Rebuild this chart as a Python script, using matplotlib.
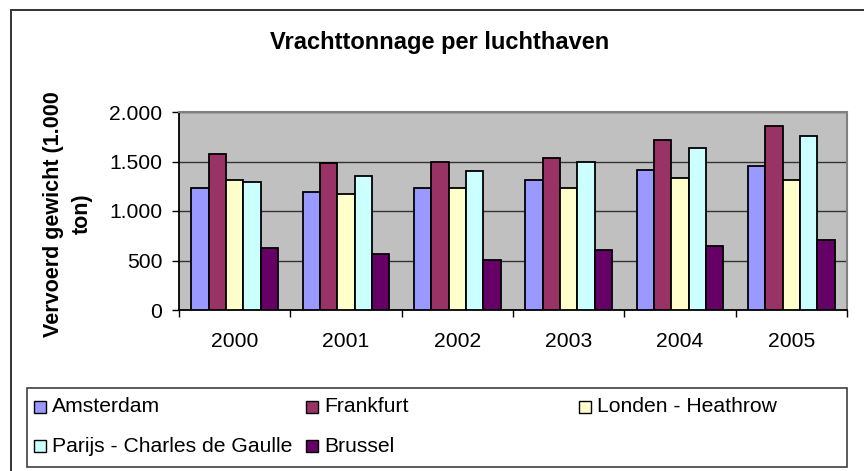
import matplotlib
matplotlib.use("Agg")
import matplotlib.pyplot as plt
from matplotlib.patches import Rectangle
import numpy as np

plt.rcParams['font.family'] = ['Liberation Sans', 'DejaVu Sans']

years = ["2000", "2001", "2002", "2003", "2004", "2005"]
amsterdam = [1235, 1195, 1235, 1316, 1418, 1458]
frankfurt = [1579, 1481, 1498, 1539, 1721, 1862]
londen = [1316, 1175, 1235, 1235, 1337, 1316]
parijs = [1296, 1357, 1401, 1498, 1640, 1761]
brussel = [629, 569, 505, 609, 650, 710]
series_names = ["Amsterdam", "Frankfurt", "Londen - Heathrow",
                "Parijs - Charles de Gaulle", "Brussel"]
series_values = [amsterdam, frankfurt, londen, parijs, brussel]
colors = ["#9999FF", "#993366", "#FFFFCC", "#CCFFFF", "#660066"]
yticks = [0, 500, 1000, 1500, 2000]
ytick_labels = ["0", "500", "1.000", "1.500", "2.000"]

W, H = 864, 471
fig = plt.figure(figsize=(W / 100, H / 100), dpi=100)


def fx(px):
    return px / W


def fy(py):
    return (H - py) / H


# outer chart border
fig.add_artist(Rectangle((fx(11), fy(480)), fx(880) - fx(11), fy(10) - fy(480),
                         transform=fig.transFigure, fill=False,
                         edgecolor="#333333", linewidth=1.4))

ax = fig.add_axes([fx(179), fy(310), fx(847) - fx(179), fy(112) - fy(310)])
ax.set_facecolor("#C0C0C0")

x = np.arange(len(years))
w = 0.156
containers = []
for k, (vals, col) in enumerate(zip(series_values, colors)):
    c = ax.bar(x + (k - 2) * w, vals, width=w, color=col, edgecolor="black",
               linewidth=1.3, zorder=3, label=series_names[k])
    containers.append(c)

ax.set_xlim(-0.5, len(years) - 0.5)
ax.set_ylim(0, 2000)
ax.set_yticks(yticks)
ax.set_yticklabels(ytick_labels)
ax.yaxis.grid(True, color="#333333", linewidth=1.0, zorder=1)
ax.set_axisbelow(True)

ax.set_xticks(x)
ax.set_xticklabels(years)
ax.set_xticks(np.arange(len(years) + 1) - 0.5, minor=True)
ax.tick_params(axis="x", which="major", length=0, pad=16, labelsize=15.2)
ax.tick_params(axis="x", which="minor", length=5, width=1, color="black")
ax.tick_params(axis="y", length=5, width=1, pad=7, labelsize=15.2)

for side in ["top", "right"]:
    ax.spines[side].set_color("#808080")
    ax.spines[side].set_linewidth(1.5)
for side in ["left", "bottom"]:
    ax.spines[side].set_color("black")
    ax.spines[side].set_linewidth(1.3)

# title
fig.text(fx(440), fy(42), "Vrachttonnage per luchthaven", ha="center",
         va="center", fontsize=17, fontweight="bold")

# y label
fig.text(fx(68), fy(214), "Vervoerd gewicht (1.000\nton)", rotation=90,
         ha="center", va="center", multialignment="center", fontsize=15.5,
         fontweight="bold", linespacing=1.45)

# legend box
fig.add_artist(Rectangle((fx(27), fy(467)), fx(847) - fx(27), fy(388) - fy(467),
                         transform=fig.transFigure, facecolor="white",
                         edgecolor="#404040", linewidth=1.2))
legend_pos = [(34, 407), (306, 407), (579, 407), (34, 446), (306, 446)]
for k, (lx, ly) in enumerate(legend_pos):
    col = containers[k].patches[0].get_facecolor()
    fig.add_artist(Rectangle((fx(lx), fy(ly + 6)), fx(12), 12 / H,
                             transform=fig.transFigure, facecolor=col,
                             edgecolor="black", linewidth=1.0))
    fig.text(fx(lx + 18), fy(ly), containers[k].get_label(), ha="left",
             va="center", fontsize=15.2)

fig.savefig("out.png", dpi=100)
